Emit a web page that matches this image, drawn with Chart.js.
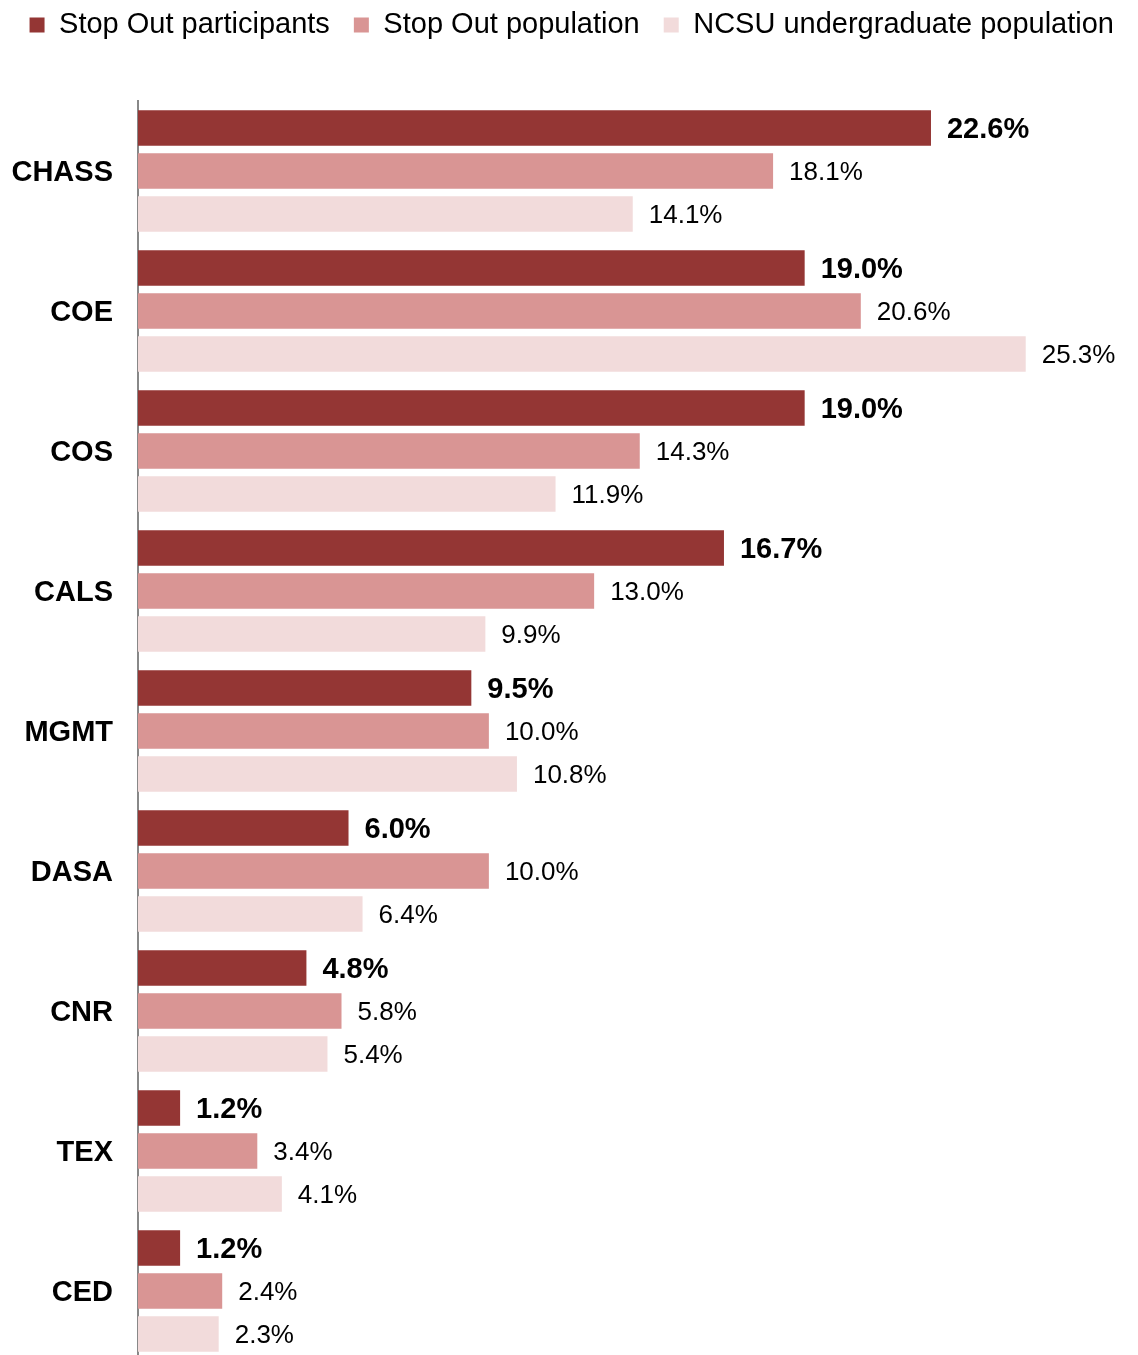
<!DOCTYPE html>
<html>
<head>
<meta charset="utf-8">
<script src="https://cdn.jsdelivr.net/npm/chart.js@4.4.1/dist/chart.umd.min.js"></script>
<style>
  html, body { margin: 0; padding: 0; background: #fff; overflow: hidden; }
  canvas { display: block; }
</style>
</head>
<body>
<canvas id="c" width="1138" height="1362"></canvas>
<script>
const categories = ["CHASS", "COE", "COS", "CALS", "MGMT", "DASA", "CNR", "TEX", "CED"];
const seriesNames = ["Stop Out participants", "Stop Out population", "NCSU undergraduate population"];
const participants = [22.6, 19.0, 19.0, 16.7, 9.5, 6.0, 4.8, 1.2, 1.2];
const stopOutPop = [18.1, 20.6, 14.3, 13.0, 10.0, 10.0, 5.8, 3.4, 2.4];
const ncsuPop = [14.1, 25.3, 11.9, 9.9, 10.8, 6.4, 5.4, 4.1, 2.3];
const colors = ["#943634", "#D99594", "#F2DBDB"];

const FONT = "'Liberation Sans', Arial, sans-serif";

const labelPlugin = {
  id: 'barLabels',
  afterDatasetsDraw(chart) {
    const ctx = chart.ctx;
    ctx.save();
    ctx.fillStyle = '#000';
    ctx.textBaseline = 'middle';
    ctx.textAlign = 'left';
    chart.data.datasets.forEach((ds, di) => {
      const meta = chart.getDatasetMeta(di);
      if (meta.hidden) return;
      ctx.font = di === 0 ? `bold 29px ${FONT}` : `26px ${FONT}`;
      meta.data.forEach((el, i) => {
        const v = ds.data[i];
        ctx.fillText(v.toFixed(1) + '%', el.x + 16, el.y + 2);
      });
    });
    ctx.restore();
  }
};

new Chart(document.getElementById('c'), {
  type: 'bar',
  data: {
    labels: categories,
    datasets: [
      { label: seriesNames[0], data: participants, backgroundColor: colors[0] },
      { label: seriesNames[1], data: stopOutPop, backgroundColor: colors[1] },
      { label: seriesNames[2], data: ncsuPop, backgroundColor: colors[2] }
    ]
  },
  options: {
    indexAxis: 'y',
    responsive: false,
    animation: false,
    devicePixelRatio: 1,
    categoryPercentage: 0.9214,
    barPercentage: 0.8256,
    layout: { padding: { top: -13.5, right: 0, bottom: 1, left: 0 } },
    plugins: {
      legend: {
        position: 'top',
        align: 'end',
        labels: {
          boxWidth: 15,
          boxHeight: 15,
          padding: 24,
          color: '#000',
          font: { family: FONT, size: 29 }
        }
      },
      tooltip: { enabled: false }
    },
    scales: {
      x: {
        position: 'top',
        min: 0,
        max: 28.5,
        grid: { display: false, drawTicks: false },
        border: { display: false },
        ticks: { display: false },
        afterFit: (s) => { s.height = 51.5; s.paddingLeft = 0; s.paddingRight = 0; }
      },
      y: {
        afterFit: (s) => { s.width = 138; s.paddingTop = 0; s.paddingBottom = 0; },
        grid: { display: false, drawTicks: false },
        border: { display: true, color: '#888888', width: 2 },
        ticks: {
          color: '#000',
          padding: 25,
          labelOffset: 2,
          font: { family: FONT, size: 29, weight: 'bold' }
        }
      }
    }
  },
  plugins: [labelPlugin]
});
</script>
</body>
</html>
